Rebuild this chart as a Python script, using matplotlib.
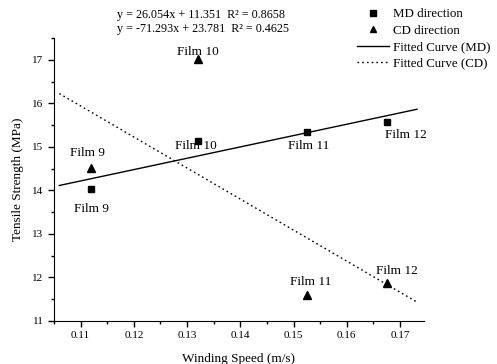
import numpy as np
import matplotlib
matplotlib.use('Agg')
import matplotlib.pyplot as plt
from matplotlib.ticker import MultipleLocator
from matplotlib.lines import Line2D

plt.rcParams['font.family'] = ['Liberation Serif', 'DejaVu Serif']

# data
speed = [0.112, 0.132, 0.1525, 0.1675]
films = ['Film 9', 'Film 10', 'Film 11', 'Film 12']
md = [14.03, 15.14, 15.33, 15.58]
cd = [14.51, 17.02, 11.60, 11.87]
# fitted curves (slope, intercept) as shown in the equations
md_fit = (26.054, 11.351)
cd_fit = (-71.293, 23.781)
fit_x = [0.106, 0.1732]

fig = plt.figure(figsize=(4.97, 3.64), dpi=100)
ax = fig.add_axes([54/497, 1-321/364, 370/497, 283/364])

ax.plot(speed, md, 's', color='black', ms=5, zorder=3)
ax.plot(speed, cd, '^', color='black', ms=6, zorder=3)
fx = np.array(fit_x)
ax.plot(fx, md_fit[0]*fx + md_fit[1], '-', color='black', lw=1)
ax.plot(fx, cd_fit[0]*fx + cd_fit[1], color='black', lw=1, dashes=(1.2, 2.2))

# point labels (offsets in points)
md_off = [(0, -14), (-1.5, -4), (1, -10), (14, -10)]
cd_off = [(-3, 11), (0, 5), (3, 9), (7, 9)]
for i in range(4):
    ax.annotate(films[i], (speed[i], md[i]), xytext=md_off[i], textcoords='offset points',
                ha='center', va='center', fontsize=9.5)
    ax.annotate(films[i], (speed[i], cd[i]), xytext=cd_off[i], textcoords='offset points',
                ha='center', va='center', fontsize=9.5)

ax.set_xlim(0.105, 0.1745)
ax.set_ylim(11, 17.5)
ax.xaxis.set_minor_locator(MultipleLocator(0.005))
ax.yaxis.set_major_locator(MultipleLocator(1))
ax.yaxis.set_minor_locator(MultipleLocator(0.5))
ax.set_xticks([0.11, 0.12, 0.13, 0.14, 0.15, 0.16, 0.17])
ax.set_xticklabels(['0.11', '0.12', '0.13', '0.14', '0.15', '0.16', '0.17'])
ax.tick_params(which='major', direction='out', length=4, width=1, labelsize=8)
ax.tick_params(which='minor', direction='out', length=2.5, width=1)
ax.spines['top'].set_visible(False)
ax.spines['right'].set_visible(False)
ax.set_xlabel('Winding Speed (m/s)', fontsize=9.5, labelpad=9)
ax.set_ylabel('Tensile Strength (MPa)', fontsize=9.5, labelpad=6)

fig.text(117/497, 1-15/364, 'y = 26.054x + 11.351  R² = 0.8658', fontsize=8.7, va='center')
fig.text(117/497, 1-29/364, 'y = -71.293x + 23.781  R² = 0.4625', fontsize=8.7, va='center')

handles = [Line2D([], [], marker='s', ls='none', color='black', ms=4),
           Line2D([], [], marker='^', ls='none', color='black', ms=5),
           Line2D([], [], ls='-', color='black', lw=1),
           Line2D([], [], color='black', lw=1, dashes=(1.2, 2.2))]
labels = ['MD direction', 'CD direction', 'Fitted Curve (MD)', 'Fitted Curve (CD)']
fig.legend(handles, labels, loc='upper left', bbox_to_anchor=(357/497, 1-8/364),
           frameon=False, fontsize=9.3, handlelength=2.5, handletextpad=0.3,
           labelspacing=0.35, borderpad=0, borderaxespad=0)

fig.savefig('out.png', dpi=100)
